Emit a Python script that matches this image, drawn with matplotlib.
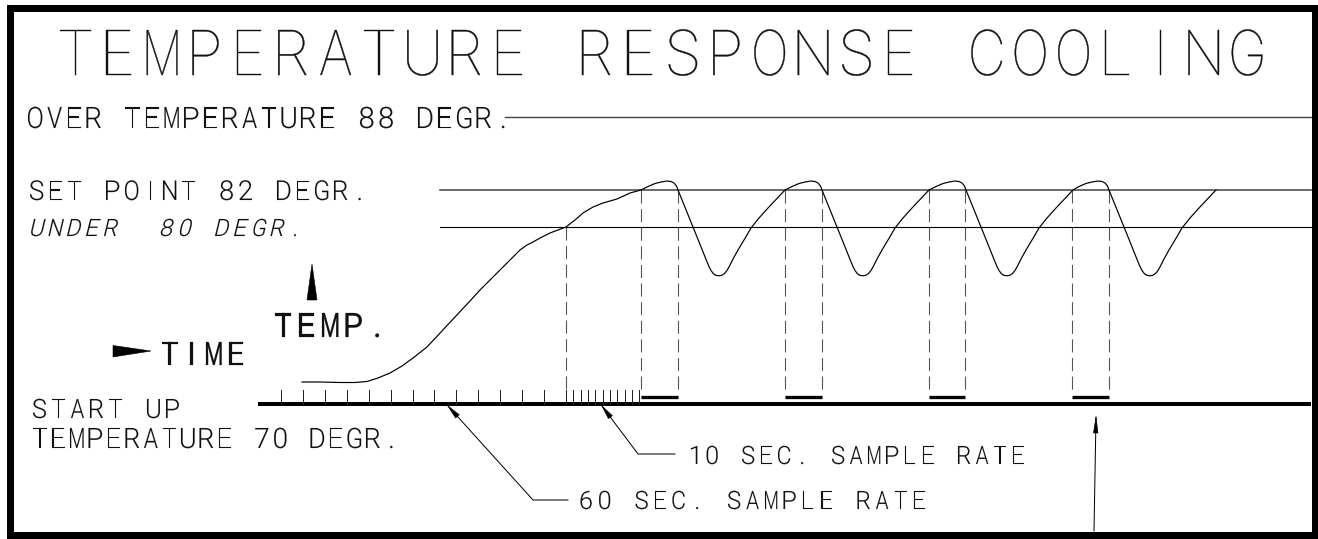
"""Temperature response (cooling) sketch, redrawn as a matplotlib figure.

Drawing units are pixels of the 1318 x 539 sheet, y pointing down.
"""
import numpy as np
import matplotlib
matplotlib.use("Agg")
import matplotlib.pyplot as plt
from matplotlib import font_manager
from matplotlib.textpath import TextPath
from matplotlib.patches import PathPatch, Polygon, Rectangle
from matplotlib.transforms import Affine2D

plt.rcParams["lines.scale_dashes"] = False

# --- Data ---
title = "TEMPERATURE RESPONSE COOLING"

# warm-up from start-up temperature to the first set-point crossing
rise_x = [302, 320, 340, 355, 367, 378, 390, 402, 413, 427, 440, 455, 470, 480,
          495, 510, 520, 527, 533, 541, 550, 558, 566, 575, 583, 593, 603, 617,
          630, 641]
rise_y = [382, 382, 382.5, 382.5, 381.5, 378, 373, 366, 358, 347, 333, 317, 301,
          290, 275, 260, 250, 245, 242, 237.5, 233, 230, 227, 220, 213, 207, 203,
          199, 193, 190]

# one control cycle (overshoot, cooling drop, recovery), offset from the
# point where the curve crosses the set point going up
cycle_dx = [0, 7, 14, 20, 26, 30, 33, 35.5, 37, 52, 62, 67.5, 70, 72.5, 75,
            78, 81, 83.5, 86, 88.5, 92, 97, 103, 110, 118, 127, 135, 144]
cycle_y = [190, 186.5, 183.5, 182, 181, 181.5, 183, 186, 190, 227, 252, 265.5,
           270.5, 273.8, 275.4, 275.8, 275.2, 273.5, 270.5, 266, 259, 250, 240,
           228, 218, 208, 199.5, 190]
cycle_start = [641, 785, 929, 1072]   # curve crosses set point going up
cooling_off = [677.5, 821.5, 965, 1109]  # curve crosses set point going down

over_y, set_y, under_y, base_y = 117, 190, 227, 404
under_cross_x = 566

tick60_x = [281, 303, 325, 347, 369, 391, 413, 434, 456, 478, 500, 522, 544, 566]
tick10_x = [573, 581, 588, 595, 603, 610, 617, 625, 632, 639]


# --- Fonts: thin sans for the CAD lettering, a regular one for the axes ---
def pick_font(target):
    names = ["Roboto", "Lato", "Open Sans", "Noto Sans", "Inter", "DejaVu Sans"]
    best = None
    for f in font_manager.fontManager.ttflist:
        if f.name not in names or f.style != "normal":
            continue
        w = f.weight if isinstance(f.weight, (int, float)) else \
            font_manager.weight_dict.get(f.weight, 400)
        key = (abs(w - target), names.index(f.name))
        if best is None or key < best[0]:
            best = (key, f.fname)
    return font_manager.FontProperties(fname=best[1])


fp_thin = pick_font(100)
fp_light = pick_font(300)
fp_reg = pick_font(400)

W, H = 1318, 539
fig = plt.figure(figsize=(W / 100, H / 100), dpi=100)
ax = fig.add_axes([0, 0, 1, 1])
ax.set_xlim(0, W)
ax.set_ylim(H, 0)
ax.axis("off")

PX = 0.72  # one pixel in points


def cad_text(s, x0, base, cap, pitch, fp, slant=0.0, color="#111111", edge=0.1):
    """Monospaced lettering: each glyph sits in its own cell."""
    hgt = TextPath((0, 0), "H", size=100, prop=fp).get_extents().height
    k = cap / hgt
    cell = 0.68 * cap
    for i, ch in enumerate(s):
        if ch == " ":
            continue
        tp = TextPath((0, 0), ch, size=100, prop=fp)
        ext = tp.get_extents()
        w = ext.width * k
        sx = k * min(1.0, cell / w) if w > 0 else k
        cx = x0 + i * pitch + cell / 2
        tr = (Affine2D().translate(-(ext.x0 + ext.x1) / 2, 0)
              .skew_deg(slant, 0).scale(sx, -k).translate(cx, base))
        ax.add_patch(PathPatch(tr.transform_path(tp), fc=color, ec=color,
                               lw=edge * PX))


def arrow_head(tip, frm, length=14, width=5):
    tip = np.asarray(tip, float)
    frm = np.asarray(frm, float)
    d = (tip - frm) / np.hypot(*(tip - frm))
    n = np.array([-d[1], d[0]])
    b = tip - d * length
    ax.add_patch(Polygon([tip, b + n * width / 2, b - n * width / 2],
                         closed=True, fc="black", ec="black", lw=0.4))


# frame
ax.add_patch(Rectangle((10, 7.5), 1305, 527.5, fill=False, ec="black",
                       lw=7 * PX, joinstyle="miter"))

# title and labels
cad_text(title, 60, 75, 45, 43.4, fp_thin, edge=0.4)
cad_text("OVER TEMPERATURE 88 DEGR.", 28, 128, 21, 19.5, fp_light)
cad_text("SET POINT 82 DEGR.", 30, 200, 19.5, 19, fp_light)
cad_text("UNDER  80 DEGR.", 30, 236, 17, 18.5, fp_light, slant=14)
cad_text("TEMP.", 275, 337, 24, 23.5, fp_reg, edge=0.2)
cad_text("TIME", 162, 365, 23, 22, fp_reg, edge=0.2)
cad_text("START UP", 33, 418, 19, 19, fp_light)
cad_text("TEMPERATURE 70 DEGR.", 33, 448, 20, 18.5, fp_light)
cad_text("10 SEC. SAMPLE RATE", 688, 464, 18, 18, fp_light)
cad_text("60 SEC. SAMPLE RATE", 580, 509, 18, 18.5, fp_light)

# reference levels
ax.plot([505, 1311], [over_y, over_y], color="#444444", lw=1.4 * PX)
ax.plot([440, 1311], [set_y, set_y], color="#555555", lw=1.7 * PX)
ax.plot([440, 1311], [under_y, under_y], color="black", lw=1.1 * PX)

# time axis with sample ticks
ax.plot([258, 1311], [base_y, base_y], color="black", lw=4 * PX,
        solid_capstyle="butt")
for x in tick60_x + tick10_x:
    ax.plot([x, x], [390, base_y], color="#222222", lw=1 * PX)

# dashed projections and cooling-on bars
dash_style = (0, (9.4, 4.0))
ax.plot([under_cross_x, under_cross_x], [under_y, 390], color="#555555",
        lw=1.1 * PX, linestyle=dash_style)
for x0, x1 in zip(cycle_start, cooling_off):
    for x in (x0, x1):
        ax.plot([x, x], [set_y, 390], color="#555555", lw=1.1 * PX,
                linestyle=dash_style)
    ax.plot([x0, x1], [397, 397], color="black", lw=3.3 * PX,
            solid_capstyle="butt")

# temperature curve
curve_x = list(rise_x)
curve_y = list(rise_y)
for s in cycle_start:
    curve_x += [s + dx for dx in cycle_dx[1:]]
    curve_y += cycle_y[1:]
ax.plot(curve_x, curve_y, color="black", lw=1.2 * PX, solid_joinstyle="round")

# direction arrows for the axes
ax.add_patch(Polygon([(312, 264), (307, 300), (317, 300)], closed=True,
                     fc="black", ec="black", lw=0.4))
ax.add_patch(Polygon([(113, 345.5), (113, 357), (151, 351)], closed=True,
                     fc="black", ec="black", lw=0.4))

# leader lines
ax.plot([448, 533, 568], [406, 500, 500], color="black", lw=1 * PX)
arrow_head((448, 406), (533, 500))
ax.plot([602, 638, 675], [406, 454, 454], color="black", lw=1 * PX)
arrow_head((602, 406), (638, 454))
ax.plot([1094, 1096], [531, 417], color="black", lw=1 * PX)
arrow_head((1096, 417), (1094, 531), length=16, width=4.5)

fig.savefig("out.png", dpi=100, facecolor="white")
